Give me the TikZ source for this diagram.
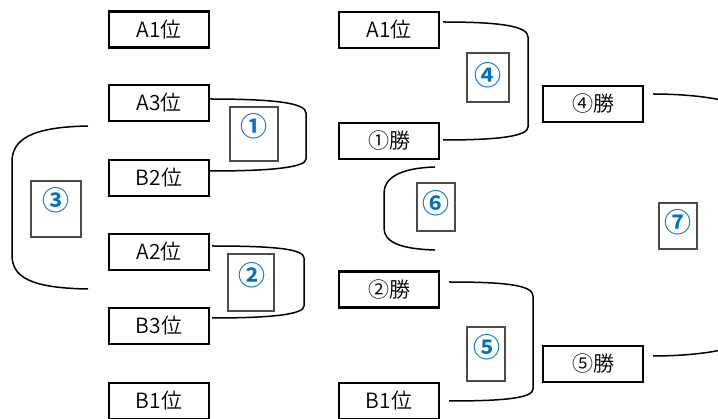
\documentclass[tikz,border=0pt]{standalone}
\usepackage{fontspec}
\setmainfont{Noto Sans CJK JP}[UprightFont={* DemiLight}, BoldFont={* Bold}]
\definecolor{numblue}{HTML}{0070C0}
\begin{document}
\begin{tikzpicture}[x=1pt,y=-1pt,
  tbox/.style={draw=black, line width=2.2pt, minimum width=100pt, minimum height=36pt, inner sep=0pt, font=\fontsize{21}{24}\selectfont},
  lbox/.style={draw=black!70, line width=1.3pt, inner sep=0pt},
  num/.style={text=numblue, font=\bfseries\fontsize{27}{30}\selectfont, inner sep=0pt},
  br/.style={line width=1.5pt}]
\useasboundingbox (0,0) rectangle (718,419);
\clip (0,0) rectangle (718,419);
% left column
\node[tbox] (LA1) at (159,29.5) {A1位};
\node[tbox] (LA3) at (159,103) {A3位};
\node[tbox] (LB2) at (159,178) {B2位};
\node[tbox] (LA2) at (159,252) {A2位};
\node[tbox] (LB3) at (159,326) {B3位};
\node[tbox] (LB1) at (159,401) {B1位};
% middle column
\node[tbox] (MA1) at (389,30) {A1位};
\node[tbox] (MW1) at (389,141) {①勝};
\node[tbox] (MW2) at (389,289.5) {②勝};
\node[tbox] (MB1) at (389,401) {B1位};
% right column
\node[tbox] (RW4) at (593,104) {④勝};
\node[tbox] (RW5) at (593,364) {⑤勝};
% label boxes
\node[lbox, minimum width=48pt, minimum height=54pt] (L1) at (254,134) {};
\node[lbox, minimum width=46pt, minimum height=57pt] (L2) at (251,282.5) {};
\node[lbox, minimum width=50pt, minimum height=56pt] (L3) at (56,209) {};
\node[lbox, minimum width=42pt, minimum height=49pt] (L4) at (488,77.5) {};
\node[lbox, minimum width=38pt, minimum height=54pt] (L5) at (486,354) {};
\node[lbox, minimum width=38pt, minimum height=48pt] (L6) at (436,207) {};
\node[lbox, minimum width=38pt, minimum height=46pt] (L7) at (678,226) {};
\node[num] (N1) at (254,126) {①};
\node[num] (N2) at (252,275) {②};
\node[num] (N3) at (56,200) {③};
\node[num] (N4) at (488,75) {④};
\node[num] (N5) at (487,347) {⑤};
\node[num] (N6) at (436,203) {⑥};
\node[num] (N7) at (678,222) {⑦};
% free ends
\coordinate (c3a) at (88,126);
\coordinate (c3b) at (88,289);
\coordinate (c6a) at (435,167);
\coordinate (c6b) at (435,250);
% brackets
\draw[br] ([xshift=-2pt,yshift=4pt]LA3.east) .. controls (275,99) and (306,103) .. (306,113)
  -- (306,159) .. controls (306,167) and (275,171) .. ([yshift=7pt]LB2.east);
\draw[br] ([xshift=2pt,yshift=6pt]LA2.east) .. controls (275,246) and (304,249) .. (304,258)
  -- (304,306) .. controls (304,314) and (275,318) .. ([xshift=2pt,yshift=8pt]LB3.east);
\draw[br] (c3a) .. controls (30,127) and (12,140) .. (12,162)
  -- (12,255) .. controls (12,277) and (30,288) .. (c3b);
\draw[br] ([xshift=3pt,yshift=8pt]MA1.east) .. controls (500,22) and (528,26) .. (528,37)
  -- (528,127) .. controls (528,136) and (500,140) .. ([xshift=3pt,yshift=1pt]MW1.east);
\draw[br] ([xshift=9pt,yshift=7.5pt]MW2.east) .. controls (505,282) and (533,285) .. (533,296)
  -- (533,389) .. controls (533,398) and (505,401) .. ([xshift=9pt]MB1.east);
\draw[br] (c6a) .. controls (400,168) and (384,178) .. (384,193)
  -- (384,228) .. controls (384,242) and (400,249) .. (c6b);
\draw[br] ([xshift=9pt,yshift=10pt]RW4.east) .. controls (690,94) and (745,99) .. (748,115)
  -- (748,335) .. controls (745,351) and (690,356) .. ([xshift=9pt,yshift=8pt]RW5.east);
\end{tikzpicture}
\end{document}
